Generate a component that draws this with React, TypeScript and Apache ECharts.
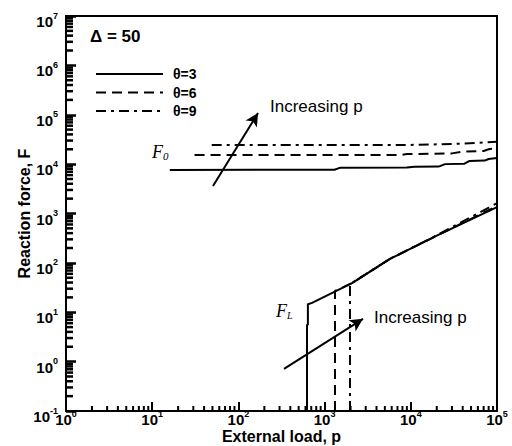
import React, { useEffect, useRef } from "react";
import * as echarts from "echarts";

// ---- data ----
const upperSolid: [number, number][] = [
  [16, 7640], [1300, 7700], [1500, 8400], [9000, 8500], [11000, 8800], [21000, 8900],
  [25000, 10000], [42000, 10200], [48000, 11600], [72000, 11800], [80000, 12700], [100000, 13300],
];
const upperDashed: [number, number][] = [
  [31, 15300], [7500, 15300], [9000, 16000], [30000, 16500], [40000, 18000],
  [70000, 18500], [80000, 20000], [100000, 21300],
];
const upperDashDot: [number, number][] = [
  [49, 24500], [10000, 24500], [30000, 25500], [60000, 27000], [100000, 28300],
];
const lowerSolid: [number, number][] = [
  [625, 0.1], [625, 5.6], [640, 5.6], [640, 14.5], [715, 15.5], [2080, 39],
  [5730, 120], [20000, 355], [100000, 1350],
];
const lowerDashed: [number, number][] = [
  [1320, 0.1], [1320, 27], [2080, 39], [5730, 120], [20000, 355], [100000, 1420],
];
const lowerDashDot: [number, number][] = [
  [1970, 0.1], [1970, 37], [5730, 121], [20000, 362], [100000, 1620],
];
const legendNames = ["θ=3", "θ=6", "θ=9"];
const arrowUpper: [number, number][] = [[50.7, 3620], [169, 108600]];
const arrowLower: [number, number][] = [[338, 0.714], [2790, 7.35]];
const xRange = [1, 100000];
const yRange = [0.1, 1e7];

const xMinorTicks: number[] = [];
for (let e = 0; e <= 4; e++) for (let m = 2; m <= 9; m++) xMinorTicks.push(m * Math.pow(10, e));
const yMinorTicks: number[] = [];
for (let e = -1; e <= 6; e++) for (let m = 2; m <= 9; m++) yMinorTicks.push(m * Math.pow(10, e));

const SANS = "'Liberation Sans', Arial, sans-serif";
const SERIF = "'Liberation Serif', 'Times New Roman', serif";

const expLabel = (v: number) => {
  const e = Math.round(Math.log10(v));
  return `{b|10}{s|${e}}`;
};
const richExp = {
  b: { fontSize: 15, fontWeight: "bold", fontFamily: SANS, color: "#000", lineHeight: 18, verticalAlign: "bottom" },
  s: { fontSize: 9, fontWeight: "bold", fontFamily: SANS, color: "#000", lineHeight: 9, verticalAlign: "top" },
};

export default function App() {
  const ref = useRef<HTMLDivElement>(null);
  useEffect(() => {
    if (!ref.current) return;
    const chart = echarts.init(ref.current, undefined, { renderer: "svg" });
    const lineBase = (name: string, data: [number, number][], type: any) => ({
      type: "line",
      name,
      data,
      symbol: "none",
      showSymbol: false,
      color: "#000",
      lineStyle: { color: "#000", width: 2, type },
      silent: true,
    });
    const dashed = [10, 6];
    const dashDot = [10, 5, 3, 5];
    const option: any = {
      animation: false,
      backgroundColor: "#fff",
      grid: {
        left: 66, right: 15, top: 16, bottom: 35,
        outerBoundsMode: "none", containLabel: false,
        show: true, borderColor: "#000", borderWidth: 2,
      },
      legend: {
        data: legendNames,
        orient: "vertical",
        left: 90,
        top: 62,
        itemWidth: 67,
        itemHeight: 14,
        itemGap: 4.5,
        selectedMode: false,
        itemStyle: { opacity: 0 },
        textStyle: { fontSize: 14, fontWeight: "bold", fontFamily: SANS, color: "#000", padding: [0, 0, 0, 5] },
      },
      xAxis: {
        type: "log",
        logBase: 10,
        min: xRange[0],
        max: xRange[1],
        interval: 1,
        name: "External load, p",
        nameLocation: "middle",
        nameGap: 17,
        nameMoveOverlap: false,
        nameTextStyle: { fontSize: 16, lineHeight: 16, fontWeight: "bold", fontFamily: SANS, color: "#000" },
        axisLine: { lineStyle: { color: "#000", width: 2 } },
        axisTick: { show: true, inside: true, length: 9, lineStyle: { color: "#000", width: 2 } },
        splitLine: { show: false },
        axisLabel: {
          formatter: expLabel, rich: richExp, margin: -2,
          fontSize: 15, fontWeight: "bold", fontFamily: SANS, color: "#000",
          showMinLabel: true, showMaxLabel: true,
        },
      },
      yAxis: {
        type: "log",
        logBase: 10,
        min: yRange[0],
        max: yRange[1],
        interval: 1,
        name: "Reaction force, F",
        nameLocation: "middle",
        nameGap: 34,
        nameMoveOverlap: false,
        nameTextStyle: { fontSize: 16, fontWeight: "bold", fontFamily: SANS, color: "#000" },
        axisLine: { show: true, lineStyle: { color: "#000", width: 2 } },
        axisTick: { show: true, inside: true, length: 10, lineStyle: { color: "#000", width: 2.5 } },
        splitLine: { show: false },
        axisLabel: {
          formatter: expLabel, rich: richExp, margin: 8, padding: [8, 0, 0, 0],
          fontSize: 15, fontWeight: "bold", fontFamily: SANS, color: "#000",
          showMinLabel: true, showMaxLabel: true,
        },
      },
      series: [
        {
          ...lineBase("θ=3", upperSolid, "solid"),
          markLine: {
            silent: true,
            symbol: ["none", "arrow"],
            symbolSize: [10, 13],
            label: { show: false },
            lineStyle: { color: "#000", width: 2, type: "solid" },
            data: [
              [{ coord: arrowUpper[0] }, { coord: arrowUpper[1] }],
              [{ coord: arrowLower[0] }, { coord: arrowLower[1] }],
            ],
          },
        },
        lineBase("θ=6", upperDashed, dashed),
        lineBase("θ=9", upperDashDot, dashDot),
        lineBase("θ=3", lowerSolid, "solid"),
        lineBase("θ=6", lowerDashed, dashed),
        lineBase("θ=9", lowerDashDot, dashDot),
        {
          type: "custom",
          name: "xminor",
          silent: true,
          clip: false,
          data: xMinorTicks.map((v) => [v, yRange[0]]),
          renderItem: (params: any, api: any) => {
            const p = api.coord([api.value(0), api.value(1)]);
            return { type: "line", shape: { x1: p[0], y1: p[1], x2: p[0], y2: p[1] - 5 }, style: { stroke: "#000", lineWidth: 2 } };
          },
        },
        {
          type: "custom",
          name: "yminor",
          silent: true,
          clip: false,
          data: yMinorTicks.map((v) => [xRange[0], v]),
          renderItem: (params: any, api: any) => {
            const p = api.coord([api.value(0), api.value(1)]);
            return { type: "line", shape: { x1: p[0], y1: p[1], x2: p[0] + 7, y2: p[1] }, style: { stroke: "#000", lineWidth: 2.5 } };
          },
        },
      ],
      graphic: [
        { type: "text", left: 90, top: 28, style: { text: "Δ = 50", fontSize: 17, fontWeight: "bold", fontFamily: SANS, fill: "#000" } },
        { type: "text", left: 270, top: 98, style: { text: "Increasing p", fontSize: 17, fontFamily: SANS, fill: "#000" } },
        { type: "text", left: 374, top: 309, style: { text: "Increasing p", fontSize: 17, fontFamily: SANS, fill: "#000" } },
        {
          type: "text", left: 152, top: 143,
          style: {
            text: "{f|F}{s|0}",
            rich: {
              f: { fontSize: 18, fontStyle: "italic", fontFamily: SERIF, fill: "#000", lineHeight: 20, verticalAlign: "bottom" },
              s: { fontSize: 11, fontStyle: "italic", fontFamily: SERIF, fill: "#000", lineHeight: 11, verticalAlign: "bottom" },
            },
          },
        },
        {
          type: "text", left: 276, top: 302,
          style: {
            text: "{f|F}{s|L}",
            rich: {
              f: { fontSize: 18, fontStyle: "italic", fontFamily: SERIF, fill: "#000", lineHeight: 20, verticalAlign: "bottom" },
              s: { fontSize: 10, fontStyle: "italic", fontFamily: SERIF, fill: "#000", lineHeight: 10, verticalAlign: "bottom" },
            },
          },
        },
      ],
    };
    chart.setOption(option);
    return () => chart.dispose();
  }, []);
  return <div ref={ref} style={{ position: "fixed", left: 0, top: 0, width: 512, height: 446 }} />;
}
